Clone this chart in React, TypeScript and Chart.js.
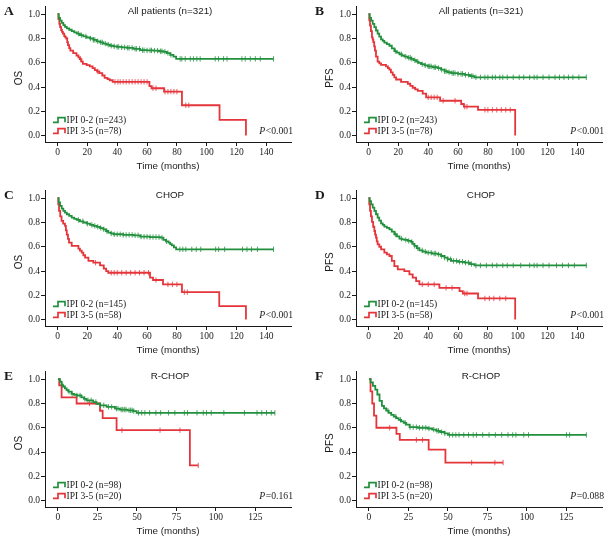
import React, { useEffect, useRef } from 'react';
import { Chart, registerables } from 'chart.js';
Chart.register(...registerables);

const GREEN = '#21903d';
const RED = '#e5353b';
const GREEN_C = 'rgba(33,144,61,0.8)';
const RED_C = 'rgba(229,53,59,0.8)';

// ---- Panel A: OS, all patients ----
const aLowT = [0, 0.8, 1.7, 2.8, 3.9, 5, 6.2, 7.8, 9.5, 11.2, 12.9, 15, 17.3, 19.5, 21.8, 24, 26.3, 28.5, 30.7, 33, 35.2, 37.5, 39.7, 43, 46.4, 50.9, 55.4, 60, 64.3, 68, 71, 73.3, 75.5, 77.7, 79.5];
const aLowS = [1, 0.97, 0.947, 0.928, 0.91, 0.896, 0.884, 0.872, 0.86, 0.85, 0.84, 0.828, 0.817, 0.808, 0.8, 0.788, 0.777, 0.768, 0.758, 0.749, 0.74, 0.735, 0.731, 0.727, 0.723, 0.715, 0.704, 0.702, 0.7, 0.695, 0.69, 0.68, 0.665, 0.65, 0.632];
const aLowCensor = [14, 16, 19, 22, 24, 25, 27, 29, 30, 32, 34, 36, 38, 40, 41, 43, 45, 47, 48, 50, 52, 53, 55, 57, 58, 60, 62, 63, 65, 67, 69, 70, 72, 74, 76, 82.2, 83.3, 85.6, 89, 91.1, 93.4, 95.6, 105.7, 107.9, 111.3, 113.6, 123.6, 125.8, 129.2, 132.6, 135.9, 144.8];
const aHighT = [0, 0.6, 1.2, 1.7, 2.4, 3, 3.6, 4.5, 5.2, 5.9, 6.5, 7, 7.8, 8.6, 10.5, 12.7, 14, 14.9, 16, 17, 19.5, 21.6, 23.5, 25, 26.5, 28, 30, 31.6, 33.5, 35, 37, 61.6, 63, 71.4, 83.4, 108.6, 126.3];
const aHighS = [1, 0.96, 0.92, 0.893, 0.87, 0.855, 0.84, 0.82, 0.81, 0.8, 0.77, 0.745, 0.72, 0.7, 0.68, 0.66, 0.645, 0.63, 0.61, 0.59, 0.58, 0.57, 0.555, 0.54, 0.528, 0.515, 0.495, 0.475, 0.465, 0.456, 0.443, 0.408, 0.39, 0.362, 0.25, 0.13, 0];
const aHighCensor = [15.5, 27, 38.5, 40.5, 42, 44, 46, 48, 50, 52, 54, 56, 58, 60, 64, 66, 72, 74, 76, 78, 80, 86, 88];

// ---- Panel B: PFS, all patients ----
const bLowT = [0, 0.8, 1.7, 2.8, 3.9, 5, 6.1, 7.2, 8.4, 9.5, 10.6, 12.3, 14, 15.6, 17.3, 19, 20.7, 22.3, 24, 26.3, 28.5, 30.2, 31.9, 33.5, 35.2, 37.5, 39.7, 43, 46.4, 48.6, 50.9, 53, 55.4, 60, 64.3, 68, 71];
const bLowS = [1, 0.97, 0.947, 0.92, 0.893, 0.866, 0.84, 0.815, 0.793, 0.78, 0.766, 0.753, 0.74, 0.718, 0.696, 0.683, 0.67, 0.66, 0.65, 0.641, 0.632, 0.621, 0.61, 0.599, 0.588, 0.579, 0.57, 0.563, 0.556, 0.543, 0.53, 0.522, 0.515, 0.508, 0.5, 0.49, 0.48];
const bLowCensor = [18, 22, 25, 27, 28, 29, 31, 33, 36, 38, 40, 41, 42, 44, 45, 47, 49, 51, 52, 54, 56, 57, 58, 60, 62, 63, 65, 67, 69, 70, 72, 75, 78, 80, 83, 85, 88, 90, 93, 97, 101, 104, 108, 111, 113, 117, 121, 125, 128, 131, 134, 137, 141, 146];
const bHighT = [0, 0.5, 1, 1.6, 2.3, 2.8, 3.2, 3.8, 4.3, 5, 6.1, 7.2, 8.4, 11.7, 13, 14, 15, 16.2, 17.3, 18.5, 21.8, 26.3, 28, 29.6, 31.3, 33, 36.3, 38.6, 48, 62.1, 63.9, 73.4, 98.3];
const bHighS = [1, 0.95, 0.906, 0.86, 0.81, 0.79, 0.77, 0.735, 0.7, 0.65, 0.61, 0.595, 0.583, 0.57, 0.556, 0.543, 0.52, 0.5, 0.48, 0.462, 0.443, 0.427, 0.41, 0.394, 0.38, 0.368, 0.346, 0.315, 0.287, 0.26, 0.238, 0.212, 0];
const bHighCensor = [40, 42, 44, 46, 50, 58, 64.5, 66, 78, 80, 83, 86, 89, 92, 95];

// ---- Panel C: OS, CHOP ----
const cLowT = [0, 0.8, 1.7, 2.8, 3.9, 5, 6.2, 7.8, 9.5, 11.2, 12.9, 15, 17.3, 19.5, 21.8, 24, 26.3, 28.5, 30.7, 32.5, 34, 35.8, 37.5, 44, 50.9, 55.4, 62, 68.8, 71, 72.7, 74.4, 75.5, 76.6, 78, 79.5];
const cLowS = [1, 0.965, 0.937, 0.915, 0.896, 0.882, 0.868, 0.855, 0.84, 0.83, 0.821, 0.81, 0.8, 0.79, 0.78, 0.772, 0.764, 0.754, 0.744, 0.73, 0.717, 0.71, 0.703, 0.698, 0.694, 0.683, 0.68, 0.675, 0.656, 0.645, 0.634, 0.622, 0.611, 0.595, 0.579];
const cLowCensor = [14, 17, 20, 23, 25, 27, 29, 31, 33, 36, 38, 40, 42, 44, 46, 48, 50, 52, 54, 56, 58, 60, 62, 64, 66, 68, 70, 73, 82, 84, 86, 90, 93, 96, 106, 108, 112, 124, 127, 130, 134, 144.8];
const cHighT = [0, 0.5, 1, 1.8, 2.7, 3.8, 5, 5.6, 6.2, 7, 7.7, 9.5, 14, 15, 16.2, 17.3, 18.5, 20.7, 24, 28.5, 31, 32.6, 34, 62, 64, 70.7, 83.4, 108.4, 126.3];
const cHighS = [1, 0.95, 0.896, 0.85, 0.813, 0.79, 0.772, 0.735, 0.7, 0.665, 0.634, 0.607, 0.584, 0.568, 0.551, 0.53, 0.51, 0.483, 0.469, 0.446, 0.42, 0.4, 0.386, 0.345, 0.326, 0.29, 0.226, 0.11, 0];
const cHighCensor = [25.5, 36, 38, 40, 43, 46, 49, 52, 55, 58, 61, 66, 74, 77, 80, 85, 87];

// ---- Panel D: PFS, CHOP ----
const dLowT = [0, 0.8, 1.7, 2.8, 3.9, 5, 6.1, 7.2, 8.4, 9.5, 10.6, 12.3, 14, 15.6, 17.3, 19, 20.7, 22.3, 24, 26.3, 28.5, 29.6, 30.7, 32.4, 34.1, 36.3, 38.6, 42.5, 46.4, 48.6, 50.9, 53, 55.4, 60, 64.3, 68, 71];
const dLowS = [1, 0.975, 0.95, 0.923, 0.896, 0.868, 0.84, 0.815, 0.793, 0.78, 0.766, 0.755, 0.744, 0.724, 0.703, 0.685, 0.667, 0.661, 0.656, 0.648, 0.64, 0.624, 0.607, 0.589, 0.57, 0.56, 0.551, 0.544, 0.537, 0.524, 0.51, 0.497, 0.483, 0.476, 0.469, 0.457, 0.446];
const dLowCensor = [18, 22, 25, 27, 29, 31, 33, 36, 38, 40, 42, 44, 45, 47, 49, 51, 53, 55, 57, 59, 61, 63, 65, 67, 69, 72, 75, 79, 83, 86, 90, 93, 97, 102, 108, 111, 113, 117, 121, 126, 130, 134, 138, 146];
const dHighT = [0, 0.5, 1, 1.6, 2.3, 3.1, 3.9, 4.4, 5, 5.5, 6.1, 7.2, 8.4, 10.6, 12.3, 14, 15.6, 17.3, 19.6, 24, 27.4, 29.6, 31.9, 34.1, 47.5, 61, 63.2, 73.4, 98.3];
const dHighS = [1, 0.95, 0.896, 0.85, 0.805, 0.765, 0.73, 0.7, 0.675, 0.645, 0.62, 0.6, 0.579, 0.551, 0.538, 0.524, 0.483, 0.441, 0.413, 0.4, 0.372, 0.345, 0.317, 0.29, 0.262, 0.235, 0.215, 0.174, 0];
const dHighCensor = [36, 40, 44, 52, 56, 64.5, 66, 78, 81, 84, 88, 92];

// ---- Panel E: OS, R-CHOP ----
const eLowT = [0, 1.3, 2.3, 3.3, 4.4, 5.5, 6.5, 8.6, 10.2, 11.8, 14.9, 16.5, 18.1, 22.3, 24.5, 26.6, 30.8, 36.1, 39.2, 44, 47.7, 49.8];
const eLowS = [1, 0.979, 0.952, 0.94, 0.925, 0.91, 0.898, 0.879, 0.872, 0.866, 0.85, 0.838, 0.826, 0.812, 0.798, 0.785, 0.772, 0.758, 0.75, 0.744, 0.737, 0.723];
const eLowCensor = [3, 7, 9, 12, 14, 17, 19, 21, 24, 27, 29, 32, 34, 37, 38, 40, 41, 42, 43, 45, 46, 47, 48, 51, 53, 55, 58, 62, 65, 70, 74, 80, 82, 88, 92, 94, 97, 105, 118, 126, 129, 132, 135, 137.3];
const eHighT = [0, 0.8, 2.3, 11.8, 26.6, 28.3, 37.1, 83.5];
const eHighS = [1, 0.95, 0.85, 0.8, 0.74, 0.68, 0.58, 0.29];
const eHighCensor = [20, 40.5, 64.6, 77.2, 88.8];

// ---- Panel F: PFS, R-CHOP ----
const fLowT = [0, 1, 2.5, 4, 5.3, 6.7, 8.2, 9.5, 10.9, 12.5, 14.1, 15.7, 17.3, 18.8, 20.4, 22, 23.6, 25.7, 31, 37.3, 40, 42.6, 45, 47.8, 50];
const fLowS = [1, 0.974, 0.946, 0.914, 0.874, 0.821, 0.781, 0.76, 0.741, 0.722, 0.706, 0.692, 0.679, 0.665, 0.652, 0.64, 0.626, 0.605, 0.6, 0.594, 0.585, 0.575, 0.565, 0.554, 0.541];
const fLowCensor = [12, 17, 20, 23, 26, 28, 30, 32, 34, 36, 38, 41, 43, 44, 46, 48, 51, 53, 55, 57, 60, 63, 66, 68, 72, 76, 80, 84, 88, 91, 93, 98, 101, 125, 127, 137.6];
const fHighT = [0, 1, 2.1, 3.2, 4.7, 17.4, 19.5, 37.8, 48.4];
const fHighS = [1, 0.9, 0.8, 0.7, 0.6, 0.55, 0.5, 0.42, 0.313];
const fHighCensor = [13.1, 30, 33.9, 65, 79.7, 84.9];

// ---- Ticks and labels ----
const xTicks140 = [0, 20, 40, 60, 80, 100, 120, 140];
const xTicks125 = [0, 25, 50, 75, 100, 125];
const yTicks = [0, 0.2, 0.4, 0.6, 0.8, 1.0];
const letters = ['A', 'B', 'C', 'D', 'E', 'F'];
const titles = ['All patients (n=321)', 'All patients (n=321)', 'CHOP', 'CHOP', 'R-CHOP', 'R-CHOP'];
const yTitles = ['OS', 'PFS', 'OS', 'PFS', 'OS', 'PFS'];
const pTexts = ['<0.001', '<0.001', '<0.001', '<0.001', '=0.161', '=0.088'];
const lowLabels = ['IPI 0-2 (n=243)', 'IPI 0-2 (n=243)', 'IPI 0-2 (n=145)', 'IPI 0-2 (n=145)', 'IPI 0-2 (n=98)', 'IPI 0-2 (n=98)'];
const highLabels = ['IPI 3-5 (n=78)', 'IPI 3-5 (n=78)', 'IPI 3-5 (n=58)', 'IPI 3-5 (n=58)', 'IPI 3-5 (n=20)', 'IPI 3-5 (n=20)'];

type Curve = { t: number[]; s: number[]; censor: number[]; color: string; censorColor: string; label: string };
type PanelDef = {
  letter: string; title: string; yTitle: string; pText: string;
  xTicks: number[]; xMin: number; xMax: number; curves: Curve[];
  left: number; top: number;
};

const curveSets: [number[], number[], number[], number[], number[], number[]][] = [
  [aLowT, aLowS, aLowCensor, aHighT, aHighS, aHighCensor],
  [bLowT, bLowS, bLowCensor, bHighT, bHighS, bHighCensor],
  [cLowT, cLowS, cLowCensor, cHighT, cHighS, cHighCensor],
  [dLowT, dLowS, dLowCensor, dHighT, dHighS, dHighCensor],
  [eLowT, eLowS, eLowCensor, eHighT, eHighS, eHighCensor],
  [fLowT, fLowS, fLowCensor, fHighT, fHighS, fHighCensor],
];
const panelLefts = [0, 311, 0, 311, 0, 311];
const panelTops = [0, 0, 184, 184, 365, 365];

const panels: PanelDef[] = curveSets.map((cs, i) => {
  const r = i >= 4;
  return {
    letter: letters[i], title: titles[i], yTitle: yTitles[i], pText: pTexts[i],
    xTicks: r ? xTicks125 : xTicks140,
    xMin: r ? -8.2 : -8.4,
    xMax: r ? 147.5 : 156.5,
    left: panelLefts[i], top: panelTops[i],
    curves: [
      { t: cs[0], s: cs[1], censor: cs[2], color: GREEN, censorColor: GREEN_C, label: lowLabels[i] },
      { t: cs[3], s: cs[4], censor: cs[5], color: RED, censorColor: RED_C, label: highLabels[i] },
    ],
  };
});

function survAt(c: Curve, time: number): number {
  let v = c.s[0];
  for (let i = 0; i < c.t.length; i++) if (c.t[i] <= time) v = c.s[i];
  return v;
}

const W = 297;
const H = 176;
const SERIF = '"Liberation Serif", "Times New Roman", serif';
const SANS = '"Liberation Sans", Arial, sans-serif';
const INK = '#1a1a1a';

function makeDecor(p: PanelDef) {
  return {
    id: 'decor',
    afterDraw(chart: any) {
      const { ctx, chartArea: ca } = chart;
      ctx.save();
      ctx.fillStyle = INK;
      ctx.textBaseline = 'middle';
      // panel letter
      ctx.font = `bold 13.5px ${SERIF}`;
      ctx.textAlign = 'left';
      ctx.fillText(p.letter, 4, 12);
      // panel title
      ctx.font = `9.8px ${SANS}`;
      ctx.textAlign = 'center';
      ctx.fillText(p.title, (ca.left + ca.right) / 2 + 2, 11);
      // y axis title
      ctx.save();
      ctx.translate(19, 78);
      ctx.rotate(-Math.PI / 2);
      ctx.font = `10px ${SANS}`;
      ctx.fillText(p.yTitle, 0, 0);
      ctx.restore();
      // legend
      const rows = [120, 131];
      p.curves.forEach((c, i) => {
        const y = rows[i];
        ctx.strokeStyle = c.color;
        ctx.lineWidth = 1.7;
        ctx.beginPath();
        ctx.moveTo(ca.left + 8, y + 2.3);
        ctx.lineTo(ca.left + 13, y + 2.3);
        ctx.lineTo(ca.left + 13, y - 2.3);
        ctx.lineTo(ca.left + 20, y - 2.3);
        ctx.lineTo(ca.left + 20, y + 2.3);
        ctx.stroke();
        ctx.fillStyle = INK;
        ctx.font = `9.5px ${SERIF}`;
        ctx.textAlign = 'left';
        ctx.fillText(c.label, ca.left + 21.5, y);
      });
      // P value
      ctx.font = `9.7px ${SERIF}`;
      const rest = p.pText;
      const wRest = ctx.measureText(rest).width;
      ctx.textAlign = 'left';
      const xEnd = ca.right + 2;
      ctx.fillText(rest, xEnd - wRest, 131);
      ctx.font = `italic 9.7px ${SERIF}`;
      const wP = ctx.measureText('P').width;
      ctx.fillText('P', xEnd - wRest - wP - 0.5, 131);
      ctx.restore();
    },
  };
}

function Panel({ p }: { p: PanelDef }) {
  const ref = useRef<HTMLCanvasElement>(null);
  useEffect(() => {
    const canvas = ref.current;
    if (!canvas) return;
    const datasets: any[] = [];
    p.curves.forEach((c) => {
      const lastT = c.t[c.t.length - 1];
      const end = Math.max(lastT, ...c.censor);
      const pts = c.t.map((t, i) => ({ x: t, y: c.s[i] }));
      if (end > lastT) pts.push({ x: end, y: c.s[c.s.length - 1] });
      datasets.push({
        type: 'line', data: pts, borderColor: c.color, borderWidth: 1.8,
        stepped: 'before', pointRadius: 0, fill: false, tension: 0,
      });
      datasets.push({
        type: 'line', data: c.censor.map((t) => ({ x: t, y: survAt(c, t) })),
        showLine: false, pointStyle: 'line', pointRotation: 90, pointRadius: 2.7,
        pointBorderColor: c.censorColor, pointBackgroundColor: c.censorColor,
        pointBorderWidth: 1, borderColor: c.censorColor,
      });
    });
    const tickFont = { family: SERIF, size: 9.5 };
    const chart = new Chart(canvas, {
      type: 'line',
      data: { datasets },
      plugins: [makeDecor(p)],
      options: {
        animation: false,
        responsive: false,
        maintainAspectRatio: false,
        layout: { padding: { top: 4, right: W - 291, left: 0, bottom: 0 } },
        plugins: { legend: { display: false }, tooltip: { enabled: false }, title: { display: false } },
        scales: {
          x: {
            type: 'linear', min: p.xMin, max: p.xMax,
            afterBuildTicks: (axis: any) => { axis.ticks = p.xTicks.map((v) => ({ value: v })); },
            afterFit: (s: any) => { s.height = 34; },
            ticks: { font: tickFont, color: INK, padding: 1, maxRotation: 0, autoSkip: false, callback: (v: any) => String(v) },
            grid: { drawOnChartArea: false, drawTicks: true, tickLength: 4, color: INK, lineWidth: 1 },
            border: { display: true, color: INK, width: 1 },
            title: { display: true, text: 'Time (months)', color: INK, font: { family: SANS, size: 9.8 }, padding: { top: 0, bottom: 4 } },
          },
          y: {
            type: 'linear', min: -0.053, max: 1.062,
            afterBuildTicks: (axis: any) => { axis.ticks = yTicks.map((v) => ({ value: v })); },
            afterFit: (s: any) => { s.width = 45; },
            ticks: { font: tickFont, color: INK, padding: 1, callback: (v: any) => Number(v).toFixed(1) },
            grid: { drawOnChartArea: false, drawTicks: true, tickLength: 4, color: INK, lineWidth: 1 },
            border: { display: true, color: INK, width: 1 },
            title: { display: false },
          },
        },
      } as any,
    } as any);
    return () => chart.destroy();
  }, [p]);
  return (
    <canvas
      ref={ref}
      width={W}
      height={H}
      style={{ position: 'absolute', left: p.left, top: p.top, width: W, height: H }}
    />
  );
}

export default function App() {
  return (
    <div style={{ position: 'absolute', left: 0, top: 0, width: 608, height: 541, background: '#fff', overflow: 'hidden' }}>
      {panels.map((p) => (
        <Panel key={p.letter} p={p} />
      ))}
    </div>
  );
}
